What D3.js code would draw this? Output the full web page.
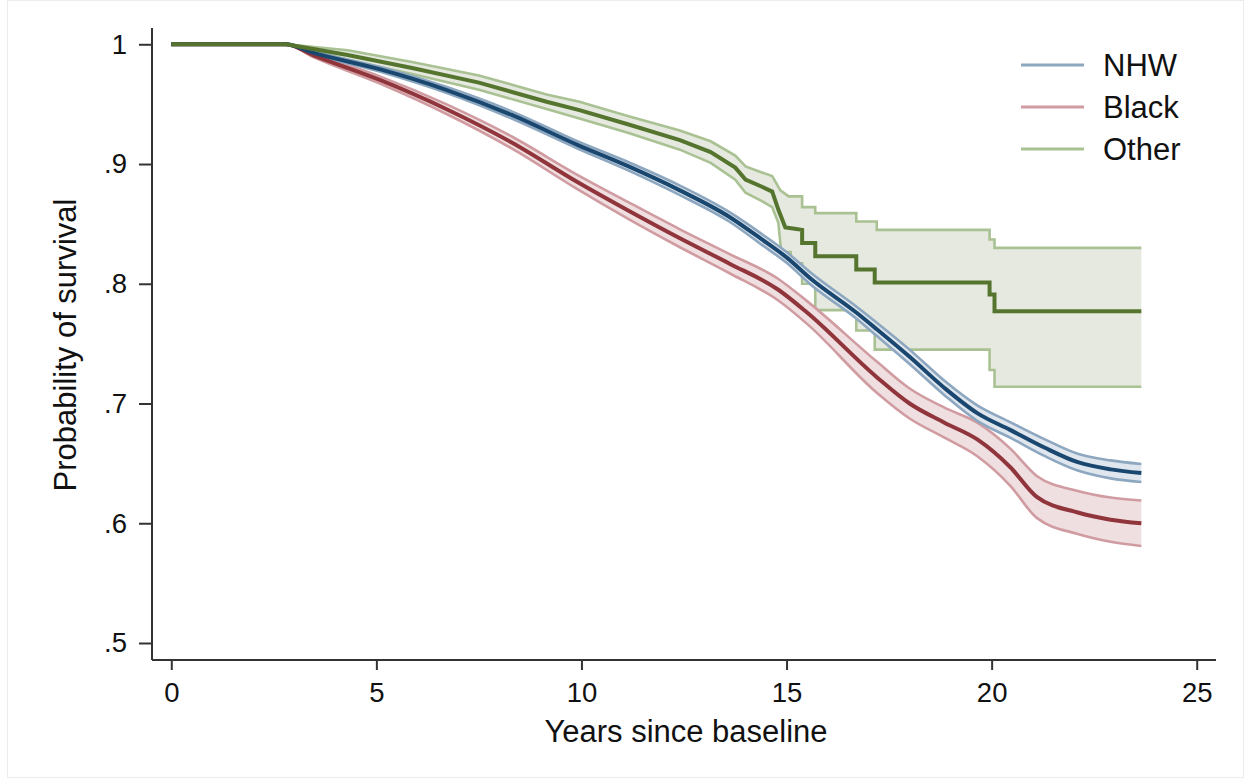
<!DOCTYPE html>
<html>
<head>
<meta charset="utf-8">
<script src="https://cdn.jsdelivr.net/npm/d3@7"></script>
<style>
  html, body { margin: 0; padding: 0; background: #fff; }
  svg { display: block; font-family: "Liberation Sans", Arial, sans-serif; }
</style>
</head>
<body>
<svg id="chart" width="1251" height="782"></svg>
<script>
/* Kaplan-Meier: sopravvivenza per gruppo, con bande di confidenza */

const X_TICKS = [0, 5, 10, 15, 20, 25];
const Y_TICKS = [0.5, 0.6, 0.7, 0.8, 0.9, 1];
const GROUPS = ["NHW", "Black", "Other"];

// NHW
const nhwT  = [0, 2.8, 3.45, 5.1, 6.7, 8.3, 9.9, 11.15, 12.4, 13.6, 14.4, 15.0, 15.6, 16.7, 17.2, 18.0, 18.85, 19.65, 20.45, 21.3, 22.1, 22.9, 23.65];
const nhwS  = [1, 1, .993, .979, .962, .941, .916, .898, .878, .856, .837, .822, .804, .776, .762, .739, .713, .692, .678, .663, .651, .645, .642];
const nhwHi = [1, 1, .994, .981, .9645, .944, .919, .9015, .882, .860, .8415, .8265, .809, .781, .7675, .745, .719, .6985, .6845, .670, .658, .6525, .6495];
const nhwLo = [1, 1, .992, .977, .9595, .938, .913, .8945, .874, .852, .8325, .8175, .799, .771, .7565, .733, .707, .6855, .6715, .656, .644, .6375, .6345];

// Black
const blkT  = [0, 2.8, 3.45, 5.1, 6.7, 8.3, 9.9, 11.15, 12.4, 13.6, 14.8, 15.5, 17.2, 18.0, 18.85, 19.65, 20.45, 21.1, 22.1, 22.9, 23.65];
const blkS  = [1, 1, .991, .970, .946, .918, .885, .861, .838, .817, .795, .776, .722, .700, .684, .670, .647, .622, .609, .603, .600];
const blkHi = [1, 1, .9925, .973, .950, .923, .891, .868, .8455, .825, .804, .7855, .735, .7125, .6965, .684, .6625, .6395, .627, .6215, .619];
const blkLo = [1, 1, .9895, .967, .942, .913, .879, .854, .8305, .809, .786, .7665, .709, .6875, .6715, .656, .6315, .6045, .591, .5845, .581];

// Other (gradini visibili dopo ~15 anni)
const othT  = [0, 2.8, 4.3, 5.9, 7.5, 9.15, 9.95, 11.15, 12.4, 13.15, 13.75, 14.0, 14.4, 14.65, 14.8, 14.97, 15.2, 15.38, 15.38, 15.7, 15.7, 16.7, 16.7, 17.15, 17.15, 19.95, 19.95, 20.07, 20.07, 23.65];
const othS  = [1, 1, .991, .980, .968, .952, .945, .933, .920, .910, .897, .887, .881, .877, .862, .847, .846, .845, .834, .834, .823, .823, .812, .812, .801, .801, .791, .791, .777, .777];
const othHiT = [0, 2.8, 4.3, 5.9, 7.5, 9.15, 9.95, 11.15, 12.4, 13.15, 13.75, 14.0, 14.4, 14.65, 14.85, 15.05, 15.38, 15.38, 15.7, 15.7, 16.7, 16.7, 17.2, 17.2, 19.95, 19.95, 20.07, 20.07, 23.65];
const othHi  = [1, 1, .995, .985, .974, .958, .952, .940, .928, .919, .907, .898, .893, .890, .878, .873, .873, .864, .864, .859, .859, .852, .852, .845, .845, .837, .837, .830, .830];
const othLoT = [0, 2.8, 4.3, 5.9, 7.5, 9.15, 9.95, 11.15, 12.4, 13.15, 13.75, 14.0, 14.4, 14.65, 14.8, 14.87, 15.1, 15.1, 15.38, 15.38, 15.7, 15.7, 16.7, 16.7, 17.15, 17.15, 19.95, 19.95, 20.07, 20.07, 23.65];
const othLo  = [1, 1, .987, .975, .962, .946, .938, .926, .912, .901, .887, .876, .869, .864, .851, .8265, .8265, .817, .817, .800, .800, .778, .778, .761, .761, .745, .745, .728, .728, .714, .714];

const COLORS = {
  NHW:   { line: "#1a476f", ci: "#8da7c0", fill: "#dfe6ee" },
  Black: { line: "#90353b", ci: "#d09ca1", fill: "#efdfe0" },
  Other: { line: "#55752f", ci: "#a9c193", fill: "#e5e9df" },
};

/* ---------- Layout ---------- */
const svg = d3.select("#chart");
const x = d3.scaleLinear().domain([-0.47, 25.47]).range([152, 1216]);
const y = d3.scaleLinear().domain([0.4858, 1.0136]).range([660, 28]);

function pts(ts, vs) {
  return ts.map((t, i) => [t, vs[i]]);
}
// NHW/Black: curve morbide; Other: spezzata con gradini espliciti
const lineSmooth = d3.line().x(d => x(d[0])).y(d => y(d[1])).curve(d3.curveMonotoneX);
const lineStep = d3.line().x(d => x(d[0])).y(d => y(d[1]));

// cornice leggera del graph region
svg.append("rect")
  .attr("x", 7.5).attr("y", 0.5)
  .attr("width", 1236).attr("height", 777)
  .attr("fill", "none").attr("stroke", "#ececec");

/* ---------- Bande CI ---------- */
function drawBand(name, hiT, hi, loT, lo, smooth) {
  const c = COLORS[name];
  const hiP = pts(hiT, hi), loP = pts(loT, lo);
  const ln = smooth ? lineSmooth : lineStep;
  if (smooth) {
    const area = d3.area()
      .x(d => x(d[0])).y0(d => y(d[2])).y1(d => y(d[1]))
      .curve(d3.curveMonotoneX);
    svg.append("path")
      .attr("d", area(hiT.map((t, i) => [t, hi[i], lo[i]])))
      .attr("fill", c.fill);
  } else {
    const poly = hiP.concat(loP.slice().reverse());
    svg.append("path").attr("d", lineStep(poly) + "Z").attr("fill", c.fill);
  }
  for (const p of [hiP, loP]) {
    svg.append("path")
      .attr("d", ln(p))
      .attr("fill", "none")
      .attr("stroke", c.ci)
      .attr("stroke-width", 2.6);
  }
}

drawBand("Other", othHiT, othHi, othLoT, othLo, false);
drawBand("Black", blkT, blkHi, blkT, blkLo, true);
drawBand("NHW", nhwT, nhwHi, nhwT, nhwLo, true);

/* ---------- Curve ---------- */
const series = [
  { name: "Black", t: blkT, s: blkS, smooth: true },
  { name: "NHW", t: nhwT, s: nhwS, smooth: true },
  { name: "Other", t: othT, s: othS, smooth: false },
];
for (const sr of series) {
  svg.append("path")
    .attr("d", (sr.smooth ? lineSmooth : lineStep)(pts(sr.t, sr.s)))
    .attr("fill", "none")
    .attr("stroke", COLORS[sr.name].line)
    .attr("stroke-width", 4);
}

/* ---------- Assi ---------- */
const yAxis = d3.axisLeft(y)
  .tickValues(Y_TICKS)
  .tickSize(13)
  .tickPadding(12)
  .tickFormat(d => (d === 1 ? "1" : String(d).replace("0.", ".")));
const gy = svg.append("g").attr("transform", "translate(152,0)").call(yAxis);

const xAxis = d3.axisBottom(x)
  .tickValues(X_TICKS)
  .tickSize(10)
  .tickPadding(12);
const gx = svg.append("g").attr("transform", "translate(0,660)").call(xAxis);

for (const g of [gx, gy]) {
  g.select(".domain").attr("stroke", "#333").attr("stroke-width", 2)
    .attr("d", g === gx ? "M152,0H1216" : "M0,28V660");
  g.selectAll(".tick line").attr("stroke", "#333").attr("stroke-width", 2);
  g.selectAll(".tick text")
    .attr("fill", "#111")
    .style("font-family", "'Liberation Sans', Arial, sans-serif")
    .style("font-size", "27.5px");
}

svg.append("text")
  .attr("x", 686).attr("y", 742)
  .attr("text-anchor", "middle")
  .attr("fill", "#111")
  .style("font-size", "31px")
  .text("Years since baseline");

svg.append("text")
  .attr("transform", "translate(76,345) rotate(-90)")
  .attr("text-anchor", "middle")
  .attr("fill", "#111")
  .style("font-size", "31px")
  .text("Probability of survival");

/* ---------- Legenda ---------- */
const legendY = [65, 107, 149];
GROUPS.forEach((name, i) => {
  svg.append("line")
    .attr("x1", 1021).attr("x2", 1084)
    .attr("y1", legendY[i]).attr("y2", legendY[i])
    .attr("stroke", COLORS[name].ci)
    .attr("stroke-width", 3);
  svg.append("text")
    .attr("x", 1103).attr("y", legendY[i])
    .attr("dy", "0.36em")
    .attr("fill", "#111")
    .style("font-size", "31px")
    .text(name);
});
</script>
</body>
</html>
